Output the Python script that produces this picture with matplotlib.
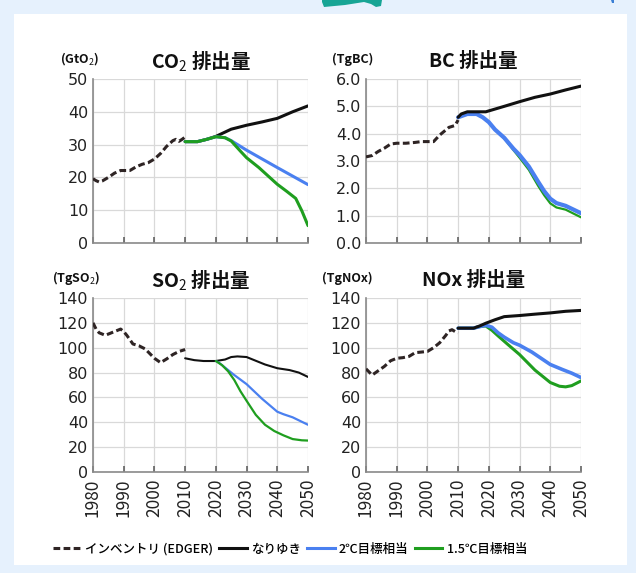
import matplotlib
matplotlib.use("Agg")
import matplotlib.pyplot as plt
from matplotlib.lines import Line2D
from matplotlib.patches import Rectangle, Polygon

plt.rcParams['font.family'] = ['Noto Sans CJK JP', 'DejaVu Sans']
plt.rcParams['mathtext.fontset'] = 'custom'
plt.rcParams['mathtext.rm'] = 'Noto Sans CJK JP'
plt.rcParams['mathtext.bf'] = 'Noto Sans CJK JP:bold'

# ---- CO2 (GtCO2) ----
co2_inv_years = [1980, 1981, 1982, 1983, 1985, 1987, 1989, 1992, 1994, 1996, 1998, 2000,
                 2002, 2004, 2006, 2007, 2008, 2009, 2010]
co2_inv = [19.6, 19.0, 18.6, 18.9, 20.0, 21.3, 22.1, 22.1, 23.2, 24.0, 24.5, 25.6,
           27.3, 29.5, 31.2, 31.6, 31.0, 31.6, 32.3]
co2_bau_years = [2010, 2014, 2017, 2020, 2025, 2030, 2035, 2040, 2045, 2050]
co2_bau = [30.9, 30.9, 31.6, 32.5, 34.7, 35.9, 36.9, 38.0, 40.0, 41.8]
co2_2c_years = [2010, 2014, 2017, 2020, 2023, 2025, 2030, 2040, 2050]
co2_2c = [30.9, 30.9, 31.6, 32.4, 32.1, 31.2, 28.3, 23.0, 17.8]
co2_15c_years = [2010, 2014, 2017, 2020, 2023, 2025, 2028, 2030, 2034, 2040, 2043, 2046, 2048, 2050]
co2_15c = [30.9, 30.9, 31.6, 32.4, 32.1, 31.1, 28.0, 26.0, 23.0, 17.9, 15.8, 13.6, 9.8, 5.3]

# ---- BC (TgBC) ----
bc_inv_years = [1980, 1982, 1984, 1986, 1988, 1990, 1993, 1996, 1998, 2002, 2004, 2007, 2009, 2010]
bc_inv = [3.15, 3.2, 3.35, 3.47, 3.62, 3.65, 3.65, 3.68, 3.71, 3.71, 3.95, 4.23, 4.3, 4.5]
bc_bau_years = [2010, 2011, 2013, 2019, 2025, 2030, 2035, 2040, 2045, 2050]
bc_bau = [4.6, 4.72, 4.8, 4.8, 5.0, 5.17, 5.33, 5.45, 5.6, 5.74]
bc_2c_years = [2010, 2013, 2016, 2018, 2020, 2022, 2025, 2028, 2030, 2033, 2036, 2038, 2040, 2042, 2045, 2050]
bc_2c = [4.6, 4.72, 4.72, 4.6, 4.42, 4.15, 3.85, 3.45, 3.22, 2.8, 2.25, 1.9, 1.62, 1.46, 1.36, 1.09]
bc_15c_years = [2010, 2013, 2016, 2018, 2020, 2022, 2025, 2028, 2030, 2033, 2036, 2038, 2040, 2042, 2045, 2050]
bc_15c = [4.6, 4.72, 4.72, 4.6, 4.42, 4.15, 3.83, 3.4, 3.12, 2.68, 2.1, 1.75, 1.45, 1.3, 1.22, 0.94]

# ---- SO2 (TgSO2) ----
so2_inv_years = [1980, 1981, 1982, 1984, 1986, 1989, 1990, 1991, 1993, 1995, 1997, 1999,
                 2000, 2002, 2004, 2006, 2008, 2010]
so2_inv = [120, 115, 112, 110, 112, 115, 113, 110, 103, 101.5, 99, 94,
           91.5, 88, 91, 94.5, 97, 98.5]
so2_bau_years = [2010, 2013, 2016, 2020, 2023, 2025, 2027, 2030, 2033, 2036, 2040, 2044, 2047, 2050]
so2_bau = [91.5, 90, 89.3, 89.3, 90.5, 92.5, 93, 92.5, 89.5, 86.5, 83.5, 82, 80, 76.5]
so2_2c_years = [2020, 2021, 2023, 2026, 2030, 2035, 2040, 2042, 2045, 2050]
so2_2c = [89.3, 88, 84, 78, 70.7, 59, 48.5, 46.5, 44, 38]
so2_15c_years = [2020, 2022, 2024, 2026, 2028, 2030, 2033, 2036, 2039, 2042, 2045, 2048, 2050]
so2_15c = [89.3, 86, 81, 74, 65, 57.3, 46, 38, 33, 29.5, 26.5, 25.5, 25.3]

# ---- NOx (TgNOx) ----
nox_inv_years = [1980, 1981, 1982, 1984, 1986, 1988, 1990, 1992, 1994, 1996, 1998, 2000,
                 2002, 2004, 2006, 2007, 2008, 2009, 2010]
nox_inv = [83, 80.5, 78, 81.5, 85, 89.5, 91.5, 92, 93, 96, 96.5, 97,
           100, 104, 110, 113.5, 114.5, 113, 112]
nox_bau_years = [2010, 2015, 2017, 2019, 2022, 2025, 2030, 2035, 2040, 2045, 2050]
nox_bau = [115.7, 115.7, 117.5, 119.7, 122.5, 125, 125.9, 127, 128, 129.3, 130]
nox_2c_years = [2010, 2015, 2017, 2019, 2021, 2023, 2025, 2028, 2030, 2034, 2037, 2040, 2044, 2047, 2050]
nox_2c = [115.7, 115.7, 117, 118, 116.5, 112, 108.5, 104, 102, 96.5, 91.5, 86.5, 82.4, 79.5, 76]
nox_15c_years = [2010, 2015, 2017, 2019, 2021, 2023, 2026, 2030, 2035, 2040, 2043, 2045, 2047, 2049, 2050]
nox_15c = [115.7, 115.7, 117, 117.5, 114, 109.5, 103, 94.5, 82, 72, 69, 68.5, 69.5, 72, 73.3]

year_ticks = [1980, 1990, 2000, 2010, 2020, 2030, 2040, 2050]
legend_labels = ['インベントリ (EDGER)', 'なりゆき', '2℃目標相当', '1.5℃目標相当']

C_INV = '#2e2424'
C_BAU = '#111111'
C_2C = '#4a80f0'
C_15C = '#1f9e1f'

W, H = 636, 573
fig = plt.figure(figsize=(W / 100, H / 100), dpi=100)
fig.patch.set_facecolor('#e6f1fd')


def fx(px):
    return px / W


def fy(py):
    return 1 - py / H


# white card and decorations
fig.add_artist(Rectangle((fx(14), fy(565)), fx(627) - fx(14), fy(14) - fy(565),
                         transform=fig.transFigure, facecolor='white', edgecolor='none', zorder=0))
fig.add_artist(Polygon([(fx(x), fy(y)) for x, y in
                        [(322, 0), (322, 2), (324, 7), (345, 5), (364, 2), (371, 4),
                         (376, 7), (381, 6), (382, 0)]],
                       closed=True, transform=fig.transFigure, facecolor='#17a595',
                       edgecolor='none', zorder=1))
fig.add_artist(Polygon([(fx(x), fy(y)) for x, y in [(611, 0), (612, 3), (614, 3), (614, 0)]],
                       closed=True, transform=fig.transFigure, facecolor='#3a7fd5',
                       edgecolor='none', zorder=1))


def make_axes(left, top, right, bottom):
    return fig.add_axes([fx(left), fy(bottom), fx(right) - fx(left), fy(top) - fy(bottom)])


panels = [
    dict(box=(93, 79, 308, 243), ylim=(0, 50), yticks=[0, 10, 20, 30, 40, 50], fmt='{:.0f}',
         title='CO$_2$ 排出量', unit='(GtO$_2$)', xlabels=False,
         inv=(co2_inv_years, co2_inv), bau=(co2_bau_years, co2_bau),
         c2=(co2_2c_years, co2_2c), c15=(co2_15c_years, co2_15c),
         lw=(2.2, 2.2, 2.2), order=('bau', 'c2', 'c15')),
    dict(box=(366, 79, 581, 243), ylim=(0, 6), yticks=[0, 1, 2, 3, 4, 5, 6], fmt='{:.1f}',
         title='BC 排出量', unit='(TgBC)', xlabels=False,
         inv=(bc_inv_years, bc_inv), bau=(bc_bau_years, bc_bau),
         c2=(bc_2c_years, bc_2c), c15=(bc_15c_years, bc_15c),
         lw=(2.2, 3.0, 1.6), order=('c15', 'c2', 'bau')),
    dict(box=(93, 298, 308, 472), ylim=(0, 140), yticks=list(range(0, 141, 20)), fmt='{:.0f}',
         title='SO$_2$ 排出量', unit='(TgSO$_2$)', xlabels=True,
         inv=(so2_inv_years, so2_inv), bau=(so2_bau_years, so2_bau),
         c2=(so2_2c_years, so2_2c), c15=(so2_15c_years, so2_15c),
         lw=(1.5, 1.6, 1.6), order=('bau', 'c2', 'c15')),
    dict(box=(366, 298, 581, 472), ylim=(0, 140), yticks=list(range(0, 141, 20)), fmt='{:.0f}',
         title='NOx 排出量', unit='(TgNOx)', xlabels=True,
         inv=(nox_inv_years, nox_inv), bau=(nox_bau_years, nox_bau),
         c2=(nox_2c_years, nox_2c), c15=(nox_15c_years, nox_15c),
         lw=(2.2, 2.6, 2.2), order=('c15', 'c2', 'bau')),
]

for p in panels:
    ax = make_axes(*p['box'])
    ax.set_facecolor('white')
    ax.set_xlim(1980, 2050)
    ax.set_ylim(*p['ylim'])
    ax.set_xticks(year_ticks)
    ax.set_yticks(p['yticks'])
    ax.set_yticklabels([p['fmt'].format(v) for v in p['yticks']],
                       family=['DejaVu Sans'], fontsize=11.5, color='#222222')
    ax.grid(True, color='#d9d9d9', linewidth=0.9, zorder=0)
    ax.set_axisbelow(True)
    for s in ('top', 'right'):
        ax.spines[s].set_visible(False)
    for s in ('left', 'bottom'):
        ax.spines[s].set_color('#8a8a8a')
        ax.spines[s].set_linewidth(1.2)
    ax.tick_params(axis='y', length=0, pad=3.5)
    ax.tick_params(axis='x', direction='in', length=4, width=1.1, color='#555555',
                   pad=5, labelsize=12.5, labelcolor='#222222',
                   labelbottom=p['xlabels'], labelrotation=90)

    ax.plot(*p['inv'], color=C_INV, linewidth=2.2, linestyle=(0, (2.2, 1.1)),
            solid_capstyle='butt', zorder=3)
    lw_bau, lw_2c, lw_15c = p['lw']
    styles = {'bau': (p['bau'], C_BAU, lw_bau), 'c2': (p['c2'], C_2C, lw_2c),
              'c15': (p['c15'], C_15C, lw_15c)}
    for z, key in enumerate(p['order']):
        (xs, ys), col, lw = styles[key]
        ax.plot(xs, ys, color=col, linewidth=lw, solid_capstyle='round', zorder=4 + z)

    ax.annotate(p['title'], xy=(0.5, 1), xycoords='axes fraction', xytext=(0, 12.6),
                textcoords='offset points', ha='center', va='center',
                fontsize=14, fontweight='bold', color='#111111')
    ax.annotate(p['unit'], xy=(0, 1), xycoords='axes fraction', xytext=(5, 14.4),
                textcoords='offset points', ha='right', va='center',
                fontsize=9, fontweight='bold', color='#111111')

handles = [
    Line2D([], [], color=C_INV, linewidth=2.2, linestyle=(0, (2.2, 1.1))),
    Line2D([], [], color=C_BAU, linewidth=2.2),
    Line2D([], [], color=C_2C, linewidth=2.2),
    Line2D([], [], color=C_15C, linewidth=2.2),
]
fig.legend(handles, legend_labels, loc='center', bbox_to_anchor=(fx(290), fy(549)),
           ncol=4, frameon=False, handlelength=2.2, handletextpad=0.35,
           columnspacing=0.5, borderpad=0,
           prop={'family': ['Noto Sans CJK JP'], 'size': 9, 'weight': 'medium'})

fig.savefig('out.png', dpi=100, facecolor=fig.get_facecolor())
